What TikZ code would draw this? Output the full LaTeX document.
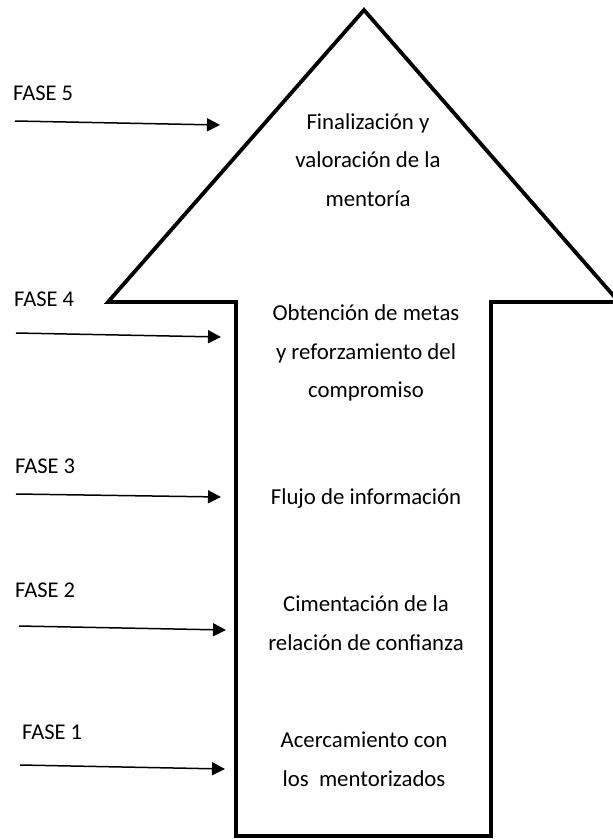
\documentclass[tikz,border=0pt]{standalone}
\usepackage{fontspec}
\setmainfont{Carlito}
\usetikzlibrary{arrows.meta}
\begin{document}
\begin{tikzpicture}[x=1pt,y=-1pt,
  fase/.style={anchor=west,inner sep=0pt,font=\fontsize{22.5}{27}\selectfont},
  etapa/.style={align=center,inner sep=0pt,font=\fontsize{22.8}{38.5}\selectfont},
  flecha/.style={line width=1.5pt,-{Triangle[length=13pt,width=13pt]}}]
\useasboundingbox (0,0) rectangle (613,839);
% flecha grande
\draw[line width=3.8pt,line join=miter] (364,10) -- (619,302) -- (491,302) -- (491,836)
  -- (236,836) -- (236,302) -- (108,302) -- cycle;
% fases
\node[fase] (f5) at (13,93) {FASE 5};
\node[fase] (f4) at (14,299) {FASE 4};
\node[fase] (f3) at (15,466) {FASE 3};
\node[fase] (f2) at (15,590) {FASE 2};
\node[fase] (f1) at (22,732) {FASE 1};
\coordinate (a5) at (15,121); \coordinate (b5) at (220,125);
\coordinate (a4) at (16,333); \coordinate (b4) at (221,337);
\coordinate (a3) at (16,494); \coordinate (b3) at (221,497);
\coordinate (a2) at (19,626); \coordinate (b2) at (226,630);
\coordinate (a1) at (20,765); \coordinate (b1) at (225,769);
\foreach \i in {1,...,5} {\draw[flecha] (a\i) -- (b\i);}
% etapas
\node[etapa] (e5) at (368,160) {Finalización y\\valoración de la\\mentoría};
\node[etapa] (e4) at (366,353) {Obtención de metas\\y reforzamiento del\\compromiso};
\node[etapa] (e3) at (366,499) {Flujo de información};
\node[etapa] (e2) at (366,623) {Cimentación de la\\relación de confianza};
\node[etapa] (e1) at (364,759) {Acercamiento con\\los\ \ mentorizados};
\end{tikzpicture}
\end{document}
